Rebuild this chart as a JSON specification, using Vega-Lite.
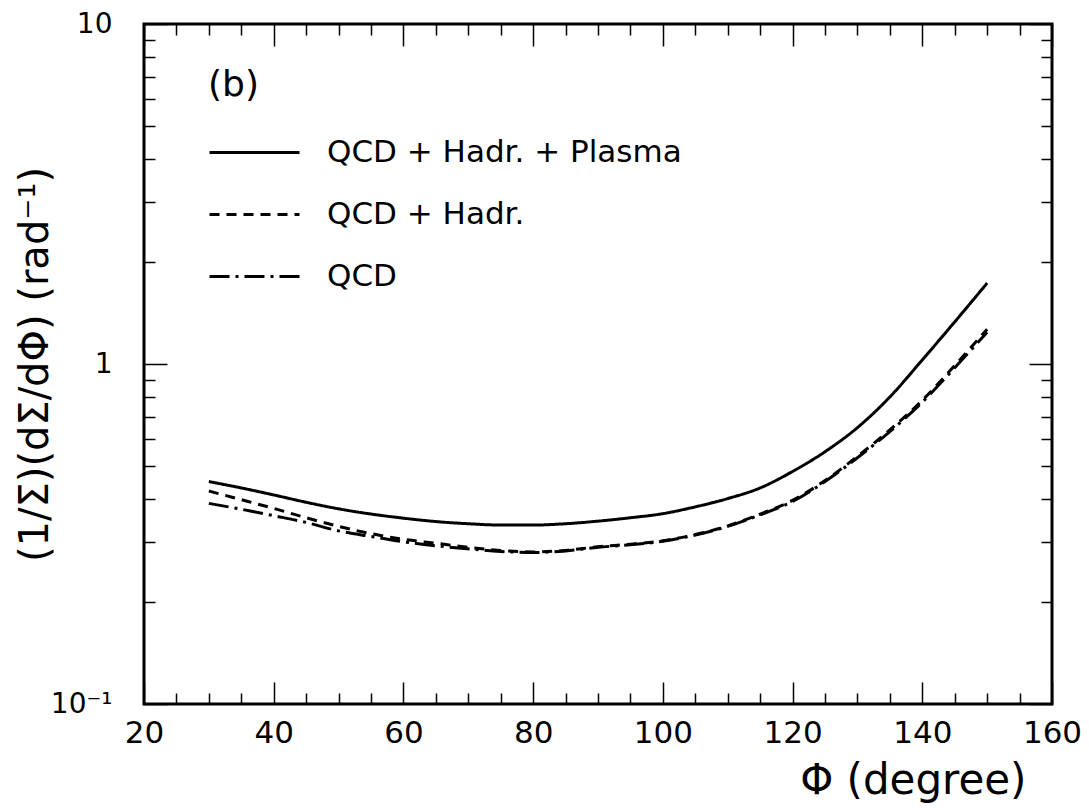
{
  "$schema": "https://vega.github.io/schema/vega-lite/v6.json",
  "width": 908,
  "height": 680,
  "autosize": "none",
  "padding": {"left": 144, "top": 24, "right": 37, "bottom": 104},
  "background": "white",
  "config": {
    "view": {"stroke": "black", "strokeWidth": 3},
    "font": "DejaVu Sans",
    "axis": {"grid": false, "domain": false, "tickColor": "black", "tickWidth": 1.5, "labelFont": "DejaVu Sans", "titleFont": "DejaVu Sans", "titleFontWeight": "normal", "labelColor": "black", "titleColor": "black"}
  },
  "data": {
    "values": [
      {"phi": 30, "v": 0.451, "s": "QCD + Hadr. + Plasma"},
      {"phi": 35, "v": 0.432, "s": "QCD + Hadr. + Plasma"},
      {"phi": 40, "v": 0.412, "s": "QCD + Hadr. + Plasma"},
      {"phi": 45, "v": 0.392, "s": "QCD + Hadr. + Plasma"},
      {"phi": 50, "v": 0.375, "s": "QCD + Hadr. + Plasma"},
      {"phi": 55, "v": 0.362, "s": "QCD + Hadr. + Plasma"},
      {"phi": 60, "v": 0.352, "s": "QCD + Hadr. + Plasma"},
      {"phi": 65, "v": 0.344, "s": "QCD + Hadr. + Plasma"},
      {"phi": 70, "v": 0.339, "s": "QCD + Hadr. + Plasma"},
      {"phi": 75, "v": 0.336, "s": "QCD + Hadr. + Plasma"},
      {"phi": 80, "v": 0.336, "s": "QCD + Hadr. + Plasma"},
      {"phi": 85, "v": 0.339, "s": "QCD + Hadr. + Plasma"},
      {"phi": 90, "v": 0.345, "s": "QCD + Hadr. + Plasma"},
      {"phi": 95, "v": 0.353, "s": "QCD + Hadr. + Plasma"},
      {"phi": 100, "v": 0.363, "s": "QCD + Hadr. + Plasma"},
      {"phi": 105, "v": 0.380, "s": "QCD + Hadr. + Plasma"},
      {"phi": 110, "v": 0.402, "s": "QCD + Hadr. + Plasma"},
      {"phi": 115, "v": 0.432, "s": "QCD + Hadr. + Plasma"},
      {"phi": 120, "v": 0.483, "s": "QCD + Hadr. + Plasma"},
      {"phi": 125, "v": 0.552, "s": "QCD + Hadr. + Plasma"},
      {"phi": 130, "v": 0.650, "s": "QCD + Hadr. + Plasma"},
      {"phi": 135, "v": 0.800, "s": "QCD + Hadr. + Plasma"},
      {"phi": 140, "v": 1.028, "s": "QCD + Hadr. + Plasma"},
      {"phi": 145, "v": 1.33, "s": "QCD + Hadr. + Plasma"},
      {"phi": 150, "v": 1.73, "s": "QCD + Hadr. + Plasma"},
      {"phi": 30, "v": 0.423, "s": "QCD + Hadr."},
      {"phi": 35, "v": 0.399, "s": "QCD + Hadr."},
      {"phi": 40, "v": 0.376, "s": "QCD + Hadr."},
      {"phi": 45, "v": 0.353, "s": "QCD + Hadr."},
      {"phi": 50, "v": 0.333, "s": "QCD + Hadr."},
      {"phi": 55, "v": 0.317, "s": "QCD + Hadr."},
      {"phi": 60, "v": 0.305, "s": "QCD + Hadr."},
      {"phi": 65, "v": 0.297, "s": "QCD + Hadr."},
      {"phi": 70, "v": 0.289, "s": "QCD + Hadr."},
      {"phi": 75, "v": 0.283, "s": "QCD + Hadr."},
      {"phi": 80, "v": 0.280, "s": "QCD + Hadr."},
      {"phi": 85, "v": 0.283, "s": "QCD + Hadr."},
      {"phi": 90, "v": 0.290, "s": "QCD + Hadr."},
      {"phi": 95, "v": 0.295, "s": "QCD + Hadr."},
      {"phi": 100, "v": 0.302, "s": "QCD + Hadr."},
      {"phi": 105, "v": 0.315, "s": "QCD + Hadr."},
      {"phi": 110, "v": 0.334, "s": "QCD + Hadr."},
      {"phi": 115, "v": 0.362, "s": "QCD + Hadr."},
      {"phi": 120, "v": 0.397, "s": "QCD + Hadr."},
      {"phi": 125, "v": 0.454, "s": "QCD + Hadr."},
      {"phi": 130, "v": 0.535, "s": "QCD + Hadr."},
      {"phi": 135, "v": 0.640, "s": "QCD + Hadr."},
      {"phi": 140, "v": 0.782, "s": "QCD + Hadr."},
      {"phi": 145, "v": 0.990, "s": "QCD + Hadr."},
      {"phi": 150, "v": 1.265, "s": "QCD + Hadr."},
      {"phi": 30, "v": 0.389, "s": "QCD"},
      {"phi": 35, "v": 0.374, "s": "QCD"},
      {"phi": 40, "v": 0.358, "s": "QCD"},
      {"phi": 45, "v": 0.342, "s": "QCD"},
      {"phi": 50, "v": 0.323, "s": "QCD"},
      {"phi": 55, "v": 0.311, "s": "QCD"},
      {"phi": 60, "v": 0.300, "s": "QCD"},
      {"phi": 65, "v": 0.292, "s": "QCD"},
      {"phi": 70, "v": 0.286, "s": "QCD"},
      {"phi": 75, "v": 0.281, "s": "QCD"},
      {"phi": 80, "v": 0.279, "s": "QCD"},
      {"phi": 85, "v": 0.282, "s": "QCD"},
      {"phi": 90, "v": 0.289, "s": "QCD"},
      {"phi": 95, "v": 0.294, "s": "QCD"},
      {"phi": 100, "v": 0.301, "s": "QCD"},
      {"phi": 105, "v": 0.314, "s": "QCD"},
      {"phi": 110, "v": 0.333, "s": "QCD"},
      {"phi": 115, "v": 0.360, "s": "QCD"},
      {"phi": 120, "v": 0.394, "s": "QCD"},
      {"phi": 125, "v": 0.451, "s": "QCD"},
      {"phi": 130, "v": 0.530, "s": "QCD"},
      {"phi": 135, "v": 0.633, "s": "QCD"},
      {"phi": 140, "v": 0.772, "s": "QCD"},
      {"phi": 145, "v": 0.975, "s": "QCD"},
      {"phi": 150, "v": 1.24, "s": "QCD"}
    ]
  },
  "layer": [
    {
      "mark": {"type": "line", "interpolate": "monotone", "strokeWidth": 3, "color": "black", "clip": true},
      "encoding": {
        "x": {
          "field": "phi", "type": "quantitative",
          "scale": {"domain": [20, 160], "nice": false, "zero": false},
          "axis": {
            "orient": "bottom", "values": [20, 40, 60, 80, 100, 120, 140, 160],
            "tickSize": -22, "labelPadding": 36, "labelFontSize": 31,
            "labelFlush": false, "labelOverlap": false,
            "title": "Φ (degree)", "titleFontSize": 42,
            "titleX": 882, "titleY": 98, "titleAlign": "right", "titleBaseline": "bottom", "titleAnchor": null
          }
        },
        "y": {
          "field": "v", "type": "quantitative",
          "scale": {"type": "log", "domain": [0.1, 10], "nice": false},
          "axis": {
            "orient": "left", "values": [0.1, 1, 10],
            "tickSize": -23, "labelPadding": 55, "labelFontSize": 28,
            "labelOverlap": false, "labelFlush": false,
            "labelExpr": "datum.value < 0.5 ? '10⁻¹' : (datum.value < 5 ? '1' : '10')",
            "title": "(1/Σ)(dΣ/dΦ) (rad⁻¹)", "titleFontSize": 40,
            "titleX": -109, "titleY": 340, "titleAlign": "center", "titleBaseline": "middle", "titleAngle": -90
          }
        },
        "strokeDash": {
          "field": "s", "type": "nominal",
          "scale": {"domain": ["QCD + Hadr. + Plasma", "QCD + Hadr.", "QCD"], "range": [[1, 0], [10, 7], [20, 6, 3, 6]]},
          "legend": {
            "orient": "none", "legendX": 64, "legendY": 44,
            "title": "(b)", "titleFontSize": 36, "titleFontWeight": "normal", "titleFont": "DejaVu Sans", "titleColor": "black",
            "titlePadding": 32,
            "labelFontSize": 31, "labelFont": "DejaVu Sans", "labelColor": "black", "labelOffset": 86, "labelLimit": 0,
            "symbolType": "M-1,0H5", "symbolSize": 900, "symbolStrokeWidth": 3,
            "symbolStrokeColor": "black", "symbolFillColor": "transparent",
            "rowPadding": 30, "padding": 0
          }
        }
      }
    },
    {
      "mark": {"type": "point", "opacity": 0},
      "encoding": {
        "x": {
          "field": "phi", "type": "quantitative",
          "scale": {"domain": [20, 160], "nice": false, "zero": false},
          "axis": {"orient": "bottom", "values": [25, 30, 35, 45, 50, 55, 65, 70, 75, 85, 90, 95, 105, 110, 115, 125, 130, 135, 145, 150, 155], "tickSize": -11, "labels": false, "title": null}
        },
        "y": {
          "field": "v", "type": "quantitative",
          "scale": {"type": "log", "domain": [0.1, 10], "nice": false},
          "axis": {"orient": "left", "values": [0.2, 0.3, 0.4, 0.5, 0.6, 0.7, 0.8, 0.9, 2, 3, 4, 5, 6, 7, 8, 9], "tickSize": -11, "labels": false, "title": null}
        }
      }
    },
    {
      "mark": {"type": "point", "opacity": 0},
      "encoding": {
        "x": {
          "field": "phi", "type": "quantitative",
          "scale": {"domain": [20, 160], "nice": false, "zero": false},
          "axis": {"orient": "top", "values": [20, 40, 60, 80, 100, 120, 140, 160], "tickSize": -22, "labels": false, "title": null}
        },
        "y": {
          "field": "v", "type": "quantitative",
          "scale": {"type": "log", "domain": [0.1, 10], "nice": false},
          "axis": {"orient": "right", "values": [0.1, 1, 10], "tickSize": -23, "labels": false, "title": null}
        }
      }
    },
    {
      "mark": {"type": "point", "opacity": 0},
      "encoding": {
        "x": {
          "field": "phi", "type": "quantitative",
          "scale": {"domain": [20, 160], "nice": false, "zero": false},
          "axis": {"orient": "top", "values": [25, 30, 35, 45, 50, 55, 65, 70, 75, 85, 90, 95, 105, 110, 115, 125, 130, 135, 145, 150, 155], "tickSize": -11, "labels": false, "title": null}
        },
        "y": {
          "field": "v", "type": "quantitative",
          "scale": {"type": "log", "domain": [0.1, 10], "nice": false},
          "axis": {"orient": "right", "values": [0.2, 0.3, 0.4, 0.5, 0.6, 0.7, 0.8, 0.9, 2, 3, 4, 5, 6, 7, 8, 9], "tickSize": -11, "labels": false, "title": null}
        }
      }
    }
  ],
  "resolve": {"axis": {"x": "independent", "y": "independent"}}
}
